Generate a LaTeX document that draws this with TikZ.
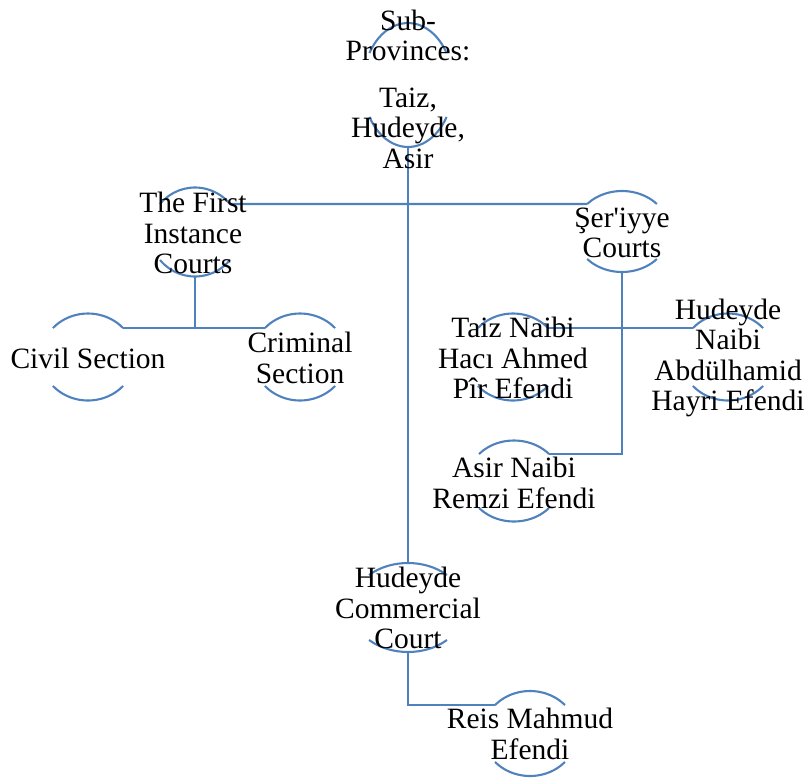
\documentclass[tikz,border=0pt]{standalone}
\usepackage{fontspec}
\setmainfont{Liberation Serif}[Ligatures=TeXOff]
\usetikzlibrary{calc}
\definecolor{officeblue}{RGB}{79,129,189}
\tikzset{
  arcline/.style={draw=officeblue, line width=2.1pt},
  conn/.style={draw=officeblue, line width=2.1pt},
  txt/.style={align=center, inner sep=0pt, text=black, font=\fontsize{29.5}{30.5}\selectfont}
}
% name, cx, cy, rx, ry, t
\newcommand\halfarcs[6]{%
  \coordinate (#1-c) at (#2,#3);
  \coordinate (#1-tl) at ([shift={(180+#6:#4 and #5)}]#2,#3);
  \coordinate (#1-tr) at ([shift={(360-#6:#4 and #5)}]#2,#3);
  \coordinate (#1-bl) at ([shift={(180-#6:#4 and #5)}]#2,#3);
  \coordinate (#1-br) at ([shift={(#6:#4 and #5)}]#2,#3);
  \coordinate (#1-t) at (#2,#3-#5);
  \coordinate (#1-b) at (#2,#3+#5);
  \draw[arcline] (#1-tl) arc[start angle=180+#6, end angle=360-#6, x radius=#4, y radius=#5];
  \draw[arcline] (#1-bl) arc[start angle=180-#6, end angle=#6, x radius=#4, y radius=#5];
}
\begin{document}
\begin{tikzpicture}[x=1pt,y=-1pt]
\useasboundingbox (0,0) rectangle (812,780);

% shapes (arcs)
\halfarcs{sub}{408}{85}{45}{62}{31}
\halfarcs{fic}{195}{232}{45}{44.5}{39}
\halfarcs{ser}{622}{231.5}{47.5}{40.5}{42.8}
\halfarcs{civ}{88}{357}{47}{43.5}{41.8}
\halfarcs{cri}{300}{357}{47}{43.5}{41.8}
\halfarcs{tai}{513}{357}{47}{43.5}{41.8}
\halfarcs{hun}{728}{357}{47}{43.5}{41.8}
\halfarcs{asi}{514}{481}{47}{40.5}{41.8}
\halfarcs{hcc}{408}{607.5}{57}{44.5}{46.9}
\halfarcs{rei}{530}{733.5}{47}{42.5}{42}

% connectors
\draw[conn] (sub-b) -- (hcc-t);
\draw[conn] (fic-tr) -- (ser-tl);
\draw[conn] (fic-b) |- (civ-tr);
\draw[conn] (fic-b) |- (cri-tl);
\draw[conn] (ser-b) |- (tai-tr);
\draw[conn] (ser-b) |- (hun-tl);
\draw[conn] (ser-b) |- (asi-tr);
\draw[conn] (hcc-b) |- (rei-tl);

% texts
\node[txt] (subT) at (408,89) {Sub-\\Provinces:\\[16pt]Taiz,\\Hudeyde,\\Asir};
\node[txt] (ficT) at (193,233) {The First\\Instance\\Courts};
\node[txt] (serT) at (622,233) {Şer'iyye\\Courts};
\node[txt] (civT) at (88,358) {Civil Section};
\node[txt] (criT) at (300,358) {Criminal\\Section};
\node[txt] (taiT) at (513,358) {Taiz Naibi\\Hacı Ahmed\\Pîr Efendi};
\node[txt] (hunT) at (728,358) {Hudeyde\\Naibi\\Abdülhamid\\Hayri Efendi};
\node[txt] (asiT) at (514,483) {Asir Naibi\\Remzi Efendi};
\node[txt] (hccT) at (408,608) {Hudeyde\\Commercial\\Court};
\node[txt] (reiT) at (530,734) {Reis Mahmud\\Efendi};
\end{tikzpicture}
\end{document}
